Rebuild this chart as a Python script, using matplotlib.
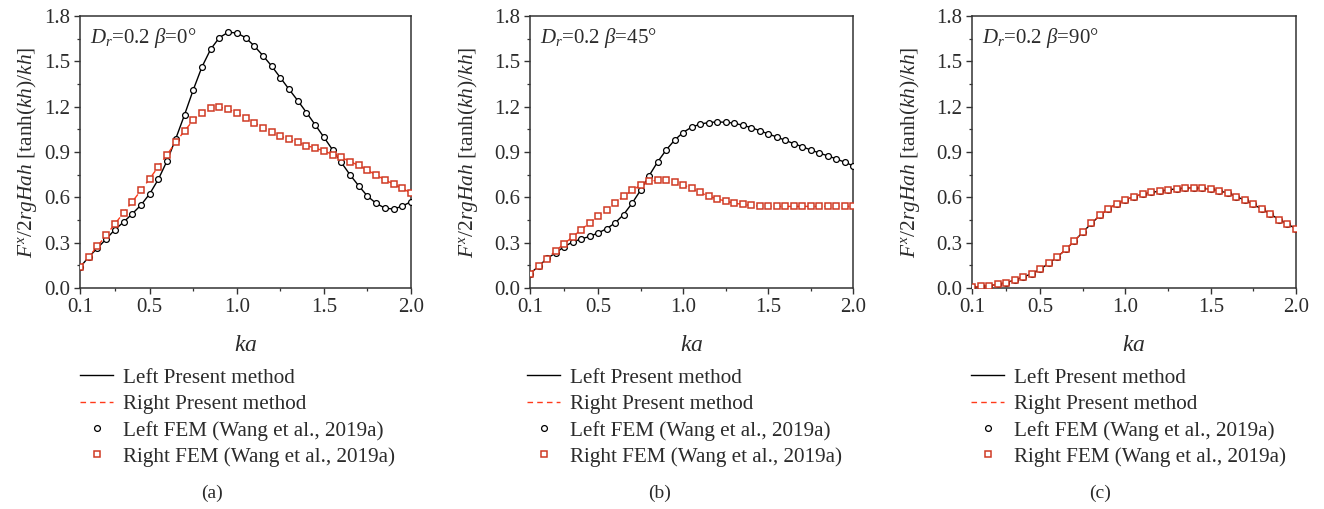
import numpy as np
import matplotlib
matplotlib.use("Agg")
import matplotlib.pyplot as plt
from matplotlib.ticker import FixedLocator

plt.rcParams['font.family'] = ['Liberation Serif', 'DejaVu Serif']
plt.rcParams['mathtext.fontset'] = 'custom'
plt.rcParams['mathtext.rm'] = 'Liberation Serif'
plt.rcParams['mathtext.it'] = 'Liberation Serif:italic'
plt.rcParams['mathtext.bf'] = 'Liberation Serif:bold'

# ---------------- data ----------------
ka = [0.10, 0.15, 0.20, 0.25, 0.30, 0.35, 0.40, 0.45, 0.50, 0.55,
      0.60, 0.65, 0.70, 0.75, 0.80, 0.85, 0.90, 0.95, 1.00, 1.05,
      1.10, 1.15, 1.20, 1.25, 1.30, 1.35, 1.40, 1.45, 1.50, 1.55,
      1.60, 1.65, 1.70, 1.75, 1.80, 1.85, 1.90, 1.95, 2.00]

left_a = [0.137, 0.205, 0.264, 0.324, 0.386, 0.436, 0.491, 0.549, 0.623, 0.720,
          0.842, 0.989, 1.146, 1.311, 1.463, 1.580, 1.657, 1.692, 1.688, 1.657,
          1.602, 1.538, 1.469, 1.392, 1.315, 1.240, 1.161, 1.080, 0.998, 0.914,
          0.831, 0.749, 0.676, 0.608, 0.560, 0.529, 0.522, 0.542, 0.571]
right_a = [0.137, 0.207, 0.275, 0.350, 0.423, 0.498, 0.571, 0.646, 0.723, 0.804,
           0.883, 0.965, 1.040, 1.110, 1.161, 1.190, 1.196, 1.185, 1.157, 1.126,
           1.095, 1.062, 1.031, 1.005, 0.983, 0.963, 0.943, 0.925, 0.908, 0.883,
           0.864, 0.837, 0.811, 0.780, 0.747, 0.716, 0.687, 0.659, 0.628]

left_b = [0.095, 0.143, 0.196, 0.231, 0.273, 0.304, 0.324, 0.341, 0.364, 0.392,
          0.430, 0.485, 0.560, 0.646, 0.742, 0.833, 0.912, 0.978, 1.029, 1.064,
          1.084, 1.095, 1.099, 1.097, 1.091, 1.077, 1.062, 1.042, 1.020, 1.000,
          0.978, 0.956, 0.936, 0.914, 0.894, 0.875, 0.855, 0.833, 0.809]
right_b = [0.095, 0.143, 0.194, 0.245, 0.293, 0.337, 0.386, 0.430, 0.474, 0.518,
           0.562, 0.606, 0.646, 0.681, 0.705, 0.714, 0.714, 0.703, 0.683, 0.659,
           0.632, 0.608, 0.590, 0.575, 0.562, 0.553, 0.546, 0.542, 0.540, 0.540,
           0.540, 0.540, 0.540, 0.540, 0.540, 0.540, 0.540, 0.540, 0.540]

left_c = [0.005, 0.011, 0.015, 0.024, 0.035, 0.053, 0.073, 0.094, 0.125, 0.163,
          0.205, 0.255, 0.311, 0.370, 0.427, 0.480, 0.524, 0.559, 0.584, 0.605,
          0.621, 0.632, 0.641, 0.650, 0.656, 0.663, 0.663, 0.661, 0.654, 0.643,
          0.628, 0.605, 0.581, 0.553, 0.522, 0.489, 0.453, 0.423, 0.392]
right_c = list(left_c)

titles = [r'$D_r$=0.2 $\beta$=0°', r'$D_r$=0.2 $\beta$=45°', r'$D_r$=0.2 $\beta$=90°']
captions = ['(a)', '(b)', '(c)']
legend_labels = ['Left Present method', 'Right Present method',
                 'Left FEM (Wang et al., 2019a)', 'Right FEM (Wang et al., 2019a)']
xticks = [0.1, 0.5, 1.0, 1.5, 2.0]
xminor = [0.3, 0.75, 1.25, 1.75]
yticks = [0.0, 0.3, 0.6, 0.9, 1.2, 1.5, 1.8]

panels = [(left_a, right_a), (left_b, right_b), (left_c, right_c)]

W, H = 1324, 509
fig = plt.figure(figsize=(W / 100, H / 100), dpi=100)

# pixel boxes: (left, right)
boxes = [(80, 411), (530, 853), (972, 1296)]
top_px, bot_px = 16, 288
ylab_x = [-0.124, -0.155, -0.154]
cap_x = [212, 660, 1100]
leg_x = [80, 527, 971]

txt = '#2b2b2b'
red_line = '#ff3a1a'
red_mk = '#d03a24'

for i, ((l, r), (yl, yr)) in enumerate(zip(boxes, panels)):
    ax = fig.add_axes([l / W, (H - bot_px) / H, (r - l) / W, (bot_px - top_px) / H])
    hl, = ax.plot(ka, yl, color='black', lw=1.0, zorder=3)
    hr, = ax.plot(ka, yr, color=red_line, lw=1.0, ls=(0, (4, 3)), zorder=3)
    ho, = ax.plot(ka, yl, ls='none', marker='o', ms=4.2, mfc='white', mec='black',
                  mew=0.9, zorder=4)
    hs, = ax.plot(ka, yr, ls='none', marker='s', ms=3.8, mfc='white', mec=red_mk,
                  mew=1.1, zorder=5)
    ax.set_xlim(0.1, 2.0)
    ax.set_ylim(0.0, 1.8)
    ax.set_xticks(xticks)
    ax.set_xticklabels(['0.1', '0.5', '1.0', '1.5', '2.0'])
    ax.xaxis.set_minor_locator(FixedLocator(xminor))
    ax.set_yticks(yticks)
    ax.set_yticklabels([f'{v:.1f}' for v in yticks])
    ax.yaxis.set_minor_locator(FixedLocator([0.15, 0.45, 0.75, 1.05, 1.35, 1.65]))
    ax.tick_params(which='major', direction='out', length=4, width=1.0,
                   labelsize=15, colors='#333333', labelcolor=txt, pad=3)
    ax.tick_params(which='minor', direction='out', length=2.5, width=0.9,
                   colors='#333333')
    for s in ax.spines.values():
        s.set_linewidth(1.1)
        s.set_color('#333333')
    ax.set_xlabel(r'$ka$', fontsize=17, color=txt)
    ax.xaxis.set_label_coords(0.5, -0.172)
    ax.set_ylabel(r'$F^x/2rgHah$ [tanh($kh$)/$kh$]', fontsize=15.4, color=txt)
    ax.yaxis.set_label_coords(ylab_x[i], 0.5)
    ax.text(0.03, 0.965, titles[i], transform=ax.transAxes, ha='left', va='top',
            fontsize=15, color=txt)

    leg = fig.legend([hl, hr, ho, hs], legend_labels,
                     loc='upper left', bbox_to_anchor=(leg_x[i] / W, (H - 368) / H),
                     frameon=False, fontsize=15.2, handlelength=1.58,
                     handletextpad=0.46, labelspacing=0.31, borderpad=0,
                     borderaxespad=0)
    for t in leg.get_texts():
        t.set_color(txt)
    fig.text(cap_x[i] / W, (H - 493) / H, captions[i], ha='center', va='center',
             fontsize=14, color=txt)

fig.savefig('out.png', dpi=100)
